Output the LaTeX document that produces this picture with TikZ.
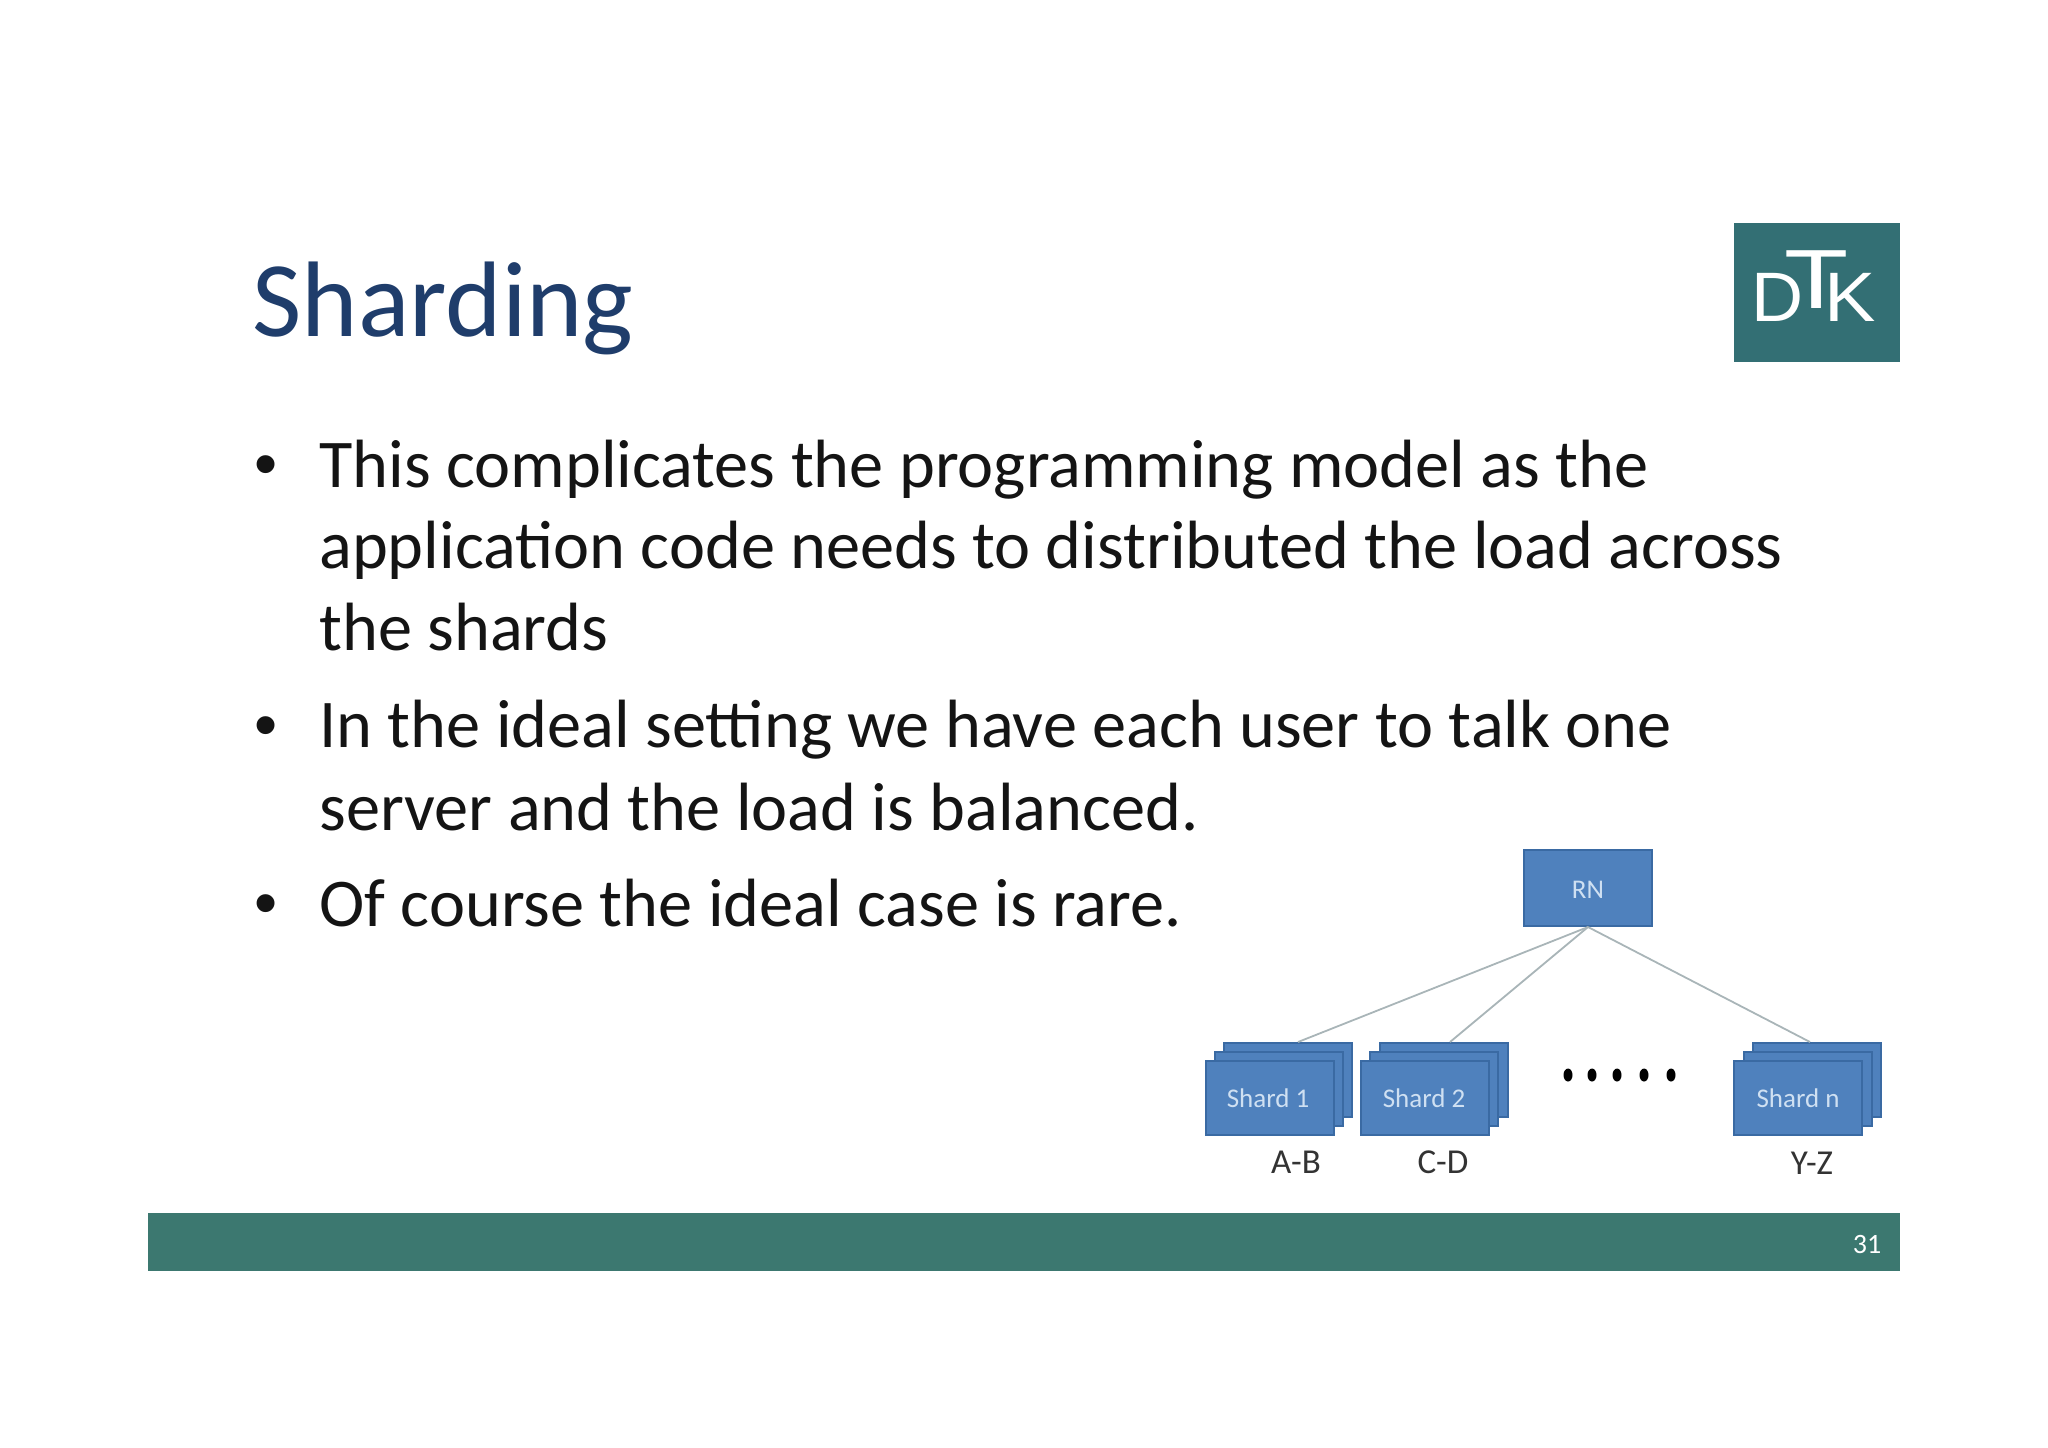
\documentclass[tikz,border=0pt]{standalone}
\usepackage{fontspec}
\setmainfont{Carlito}
\newfontfamily\logofont{Liberation Sans}
\usetikzlibrary{shapes.geometric}
\definecolor{titleblue}{HTML}{1F3D6B}
\definecolor{bargreen}{HTML}{3C7870}
\definecolor{logogreen}{HTML}{336F74}
\definecolor{shardblue}{HTML}{4F81BD}
\definecolor{sharddraw}{HTML}{3A6AA3}
\definecolor{shardtext}{HTML}{CFE0F2}
\definecolor{linkgray}{HTML}{A9B5B8}

\begin{document}
\begin{tikzpicture}[
    x=0.5pt, y=-0.5pt,
    body/.style={anchor=base west, inner sep=0pt, font=\fontsize{34.15}{34.15}\selectfont, text=black!92},
    bullet/.style={anchor=base west, inner sep=0pt, font=\logofont\fontsize{33}{33}\selectfont, text=black!92},
    box/.style={rectangle, draw=sharddraw, line width=1pt, fill=shardblue,
        minimum width=64pt, minimum height=37pt, inner sep=0pt},
    shardlabel/.style={inner sep=0pt, text=shardtext, font=\fontsize{13.5}{13.5}\selectfont},
    keyrange/.style={inner sep=0pt, text=black!80, font=\fontsize{17.5}{17.5}\selectfont},
    dot/.style={ellipse, fill=black, inner sep=0pt, minimum width=4.5pt, minimum height=6.5pt},
    logoletter/.style={inner sep=0pt, text=white, font=\logofont\fontsize{35}{35}\selectfont},
    link/.style={draw=linkgray, line width=0.9pt, -}
]
    \useasboundingbox (0,0) rectangle (2048,1447);

    % title and logo
    \node[anchor=base west, inner sep=0pt, text=titleblue,
        font=\fontsize{53.7}{53.7}\selectfont] (title) at (252,336) {Sharding};
    \node[rectangle, fill=logogreen, minimum width=83pt, minimum height=69.5pt,
        inner sep=0pt] (logo) at (1817,292.5) {};
    \node[logoletter] (logoD) at (1778,297) {\scalebox{1.03}[1]{D}};
    \node[logoletter] (logoT) at (1817,280) {\scalebox{1.5}[1.2]{T}};
    \node[logoletter] (logoK) at (1850.5,297) {\scalebox{1.1}[1]{K}};

    % bullets
    \node[bullet] (bull1) at (254,486) {•};
    \node[body] (line1) at (319,487) {This complicates the programming model as the};
    \node[body] (line2) at (319,568) {application code needs to distributed the load across};
    \node[body] (line3) at (319,650) {the shards};
    \node[bullet] (bull2) at (254,747) {•};
    \node[body] (line4) at (319,747) {In the ideal setting we have each user to talk one};
    \node[body] (line5) at (319,830) {server and the load is balanced.};
    \node[bullet] (bull3) at (254,925) {•};
    \node[body] (line6) at (319,926) {Of course the ideal case is rare.};

    % tree
    \node[box, minimum height=38pt] (rn) at (1588,888) {};
    \node[shardlabel] (rnlabel) at (1588,890) {RN};

    \node[box] (s1back) at (1287.5,1079.5) {};
    \node[box] (s1mid) at (1278.5,1088.5) {};
    \node[box] (s1front) at (1270,1098) {};
    \node[shardlabel] (s1label) at (1268,1098) {Shard 1};

    \node[box] (s2back) at (1443.5,1079.5) {};
    \node[box] (s2mid) at (1434,1088.5) {};
    \node[box] (s2front) at (1424.5,1098) {};
    \node[shardlabel] (s2label) at (1424,1098) {Shard 2};

    \node[box] (snback) at (1817,1079.5) {};
    \node[box] (snmid) at (1808,1088.5) {};
    \node[box] (snfront) at (1798,1098) {};
    \node[shardlabel] (snlabel) at (1798,1098) {Shard n};

    \node[dot] (dot1) at (1568,1075) {};
    \node[dot] (dot2) at (1592,1075) {};
    \node[dot] (dot3) at (1617,1075) {};
    \node[dot] (dot4) at (1644,1075) {};
    \node[dot] (dot5) at (1671,1075) {};

    \node[keyrange] (ab) at (1296,1162) {A-B};
    \node[keyrange] (cd) at (1443,1162) {C-D};
    \node[keyrange] (yz) at (1812,1163) {Y-Z};

    \coordinate (s1top) at (1298,1042);
    \coordinate (s2top) at (1450,1042);
    \coordinate (sntop) at (1810,1042);
    \draw[link] (rn.south) -- (s1top);
    \draw[link] (rn.south) -- (s2top);
    \draw[link] (rn.south) -- (sntop);

    % footer
    \node[rectangle, fill=bargreen, minimum width=876pt, minimum height=29pt,
        inner sep=0pt] (footer) at (1024,1242) {};
    \node[inner sep=0pt, text=white, font=\fontsize{14}{14}\selectfont] (page) at (1867,1244) {31};
\end{tikzpicture}
\end{document}
